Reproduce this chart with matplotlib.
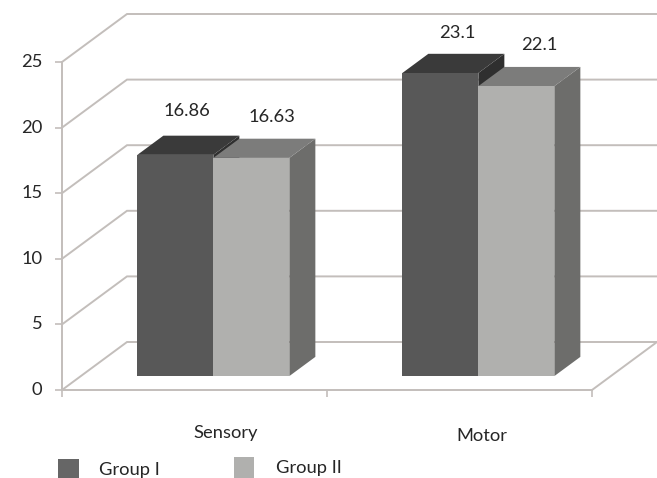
import matplotlib
matplotlib.use("Agg")
import matplotlib.pyplot as plt
from matplotlib.patches import Polygon, Rectangle

categories = ["Sensory", "Motor"]
group_names = ["Group I", "Group II"]
group_1 = [16.86, 23.1]
group_2 = [16.63, 22.1]
y_ticks = [0, 5, 10, 15, 20, 25]

W, H = 657, 478
PX_X = 265.0    # pixels per category
PX_Y = 13.12    # pixels per value unit
X0, Y0 = 62, 88  # origin of the front plane, pixels from bottom left

# box depth of the 3d frame, in data units
DX = 65 / PX_X
DY = 48 / PX_Y
BAR_W = 76 / PX_X
NEAR, FAR = 0.29, 0.69  # where the bars sit inside the depth

GRID = "#c3bebb"
TEXT = "#262626"
FONT = "Lato"
FS = 13.2

FRONT = ["#585858", "#b0b0ae"]
TOP = ["#3a3a3a", "#7c7c7b"]
SIDE = ["#2f2f2f", "#6d6d6b"]
LEGEND = ["#666666", "#b0b0ae"]


def depth(x, v, f):
    return x + DX * f, v + DY * f


def draw_bar(ax, left, value, i):
    right = left + BAR_W
    # side, top, front, painted back to front
    side = [depth(right, 0, NEAR), depth(right, 0, FAR), depth(right, value, FAR), depth(right, value, NEAR)]
    top = [depth(left, value, NEAR), depth(right, value, NEAR), depth(right, value, FAR), depth(left, value, FAR)]
    front = [depth(left, 0, NEAR), depth(right, 0, NEAR), depth(right, value, NEAR), depth(left, value, NEAR)]
    for pts, col in ((side, SIDE[i]), (top, TOP[i]), (front, FRONT[i])):
        ax.add_patch(Polygon(pts, closed=True, facecolor=col, edgecolor="none", zorder=3 + i))


fig = plt.figure(figsize=(W / 100, H / 100), dpi=100)
ax = fig.add_axes([0, 0, 1, 1])
ax.set_xlim(-X0 / PX_X, (W - X0) / PX_X)
ax.set_ylim(-Y0 / PX_Y, (H - Y0) / PX_Y)
ax.patch.set_visible(False)

for s in ["top", "right"]:
    ax.spines[s].set_visible(False)
ax.spines["left"].set_position(("data", 0))
ax.spines["bottom"].set_position(("data", 0))
ax.spines["left"].set_bounds(0, 25)
ax.spines["bottom"].set_bounds(0, len(categories))
for s in ["left", "bottom"]:
    ax.spines[s].set_color(GRID)
    ax.spines[s].set_linewidth(1.4)

ax.set_yticks(y_ticks)
ax.set_xticks(range(len(categories) + 1))
ax.set_xticklabels([])
ax.tick_params(axis="both", length=5, width=1.2, color=GRID)
ax.tick_params(axis="y", pad=9, labelcolor=TEXT)
for lab in ax.get_yticklabels():
    lab.set_fontsize(FS)
    lab.set_fontfamily(FONT)
    lab.set_verticalalignment("center")
    lab.set_y(lab.get_position()[1])

# wall and floor lines
for v in y_ticks:
    bx, by = depth(0, v, 1)
    ax.plot([0, bx, bx + len(categories)], [v, by, by], color=GRID, lw=1.4, zorder=1, solid_joinstyle="miter")
ax.plot([len(categories), len(categories) + DX], [0, DY], color=GRID, lw=1.4, zorder=1)

# bars
offsets_1 = [(12, 44), (16.5, 40)]
offsets_2 = [(21, 41), (22.5, 41)]
for k in range(len(categories)):
    left = k + 0.5 - BAR_W
    draw_bar(ax, left, group_1[k], 0)
    draw_bar(ax, left + BAR_W, group_2[k], 1)
    for val, x, off in ((group_1[k], left, offsets_1[k]), (group_2[k], left + BAR_W, offsets_2[k])):
        fx, fy = depth(x + BAR_W / 2, val, NEAR)
        ax.annotate(str(val), (fx, fy), xytext=off, textcoords="offset pixels", ha="center", va="center",
                    fontsize=FS, family=FONT, color=TEXT, zorder=6)

# category names
name_offsets = [(31, -48), (22.5, -51)]
for k, name in enumerate(categories):
    ax.annotate(name, (k + 0.5, 0), xytext=name_offsets[k], textcoords="offset pixels", ha="center",
                va="baseline", fontsize=FS, family=FONT, color=TEXT)

# legend drawn by hand, the row runs off the lower edge
legend_boxes = [(58, 0, 21, 19), (234, 0, 20, 21)]
legend_text = [(99, 3), (276, 5)]
for i, name in enumerate(group_names):
    x, y, w, h = legend_boxes[i]
    fig.add_artist(Rectangle((x / W, y / H), w / W, h / H, transform=fig.transFigure, facecolor=LEGEND[i], edgecolor="none"))
    tx, ty = legend_text[i]
    fig.text(tx / W, ty / H, name, ha="left", va="baseline", fontsize=FS, family=FONT, color=TEXT)

fig.savefig("out.png", dpi=100)
